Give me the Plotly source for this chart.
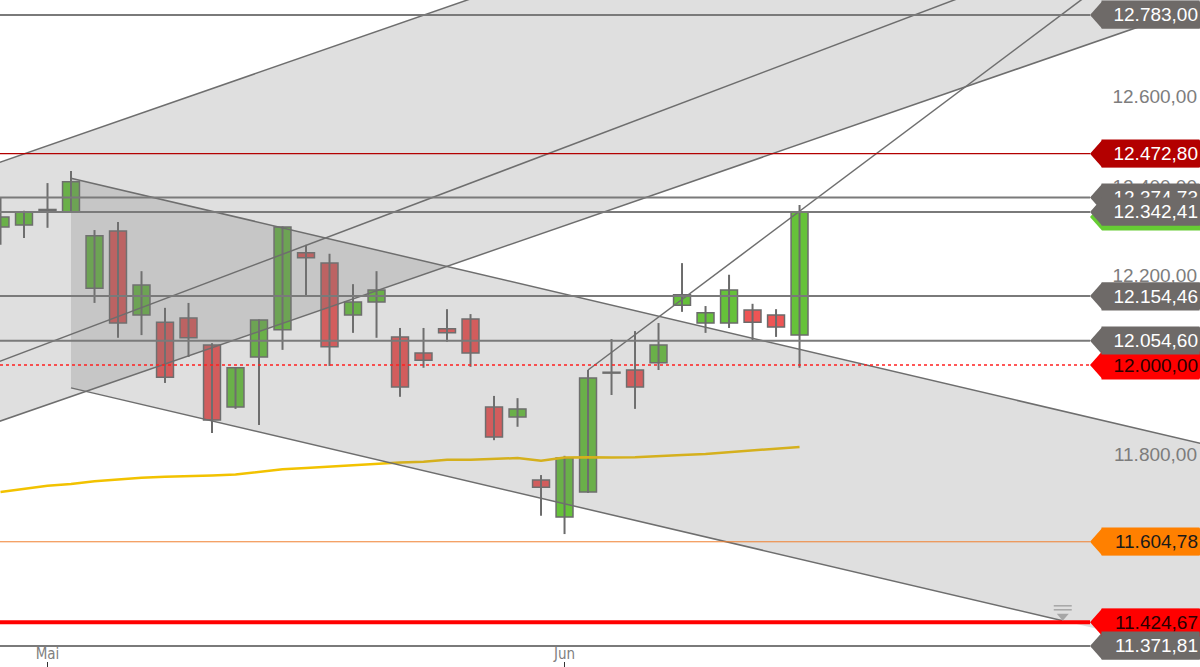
import plotly.graph_objects as go

# ---------------- data ----------------
# trading-day index of each candle (0 = first visible day)
day_idx = list(range(35))
opens  = [12309, 12313, 12346, 12342, 12172, 12300, 12112, 12096, 12105, 12045,
          11906, 12018, 12079, 12251, 12228, 12112, 12141, 12063, 12027, 12081,
          12103, 11906, 11884, 11743, 11660, 11716, 11982, 11989, 12005, 12134,
          12094, 12094, 12123, 12112, 12067]
highs  = [12376, 12345, 12407, 12434, 12302, 12320, 12210, 12128, 12139, 12049,
          11995, 12102, 12310, 12269, 12249, 12181, 12210, 12083, 12083, 12125,
          12114, 11931, 11926, 11754, 11797, 11989, 12058, 12076, 12094, 12228,
          12132, 12202, 12137, 12125, 12358]
lows   = [12269, 12284, 12307, 12341, 12139, 12061, 12067, 11960, 12018, 11848,
          11902, 11866, 12034, 12155, 11998, 12072, 12061, 11929, 11994, 12052,
          11996, 11832, 11862, 11663, 11622, 11714, 11933, 11902, 11989, 12119,
          12072, 12083, 12056, 12063, 11994]
closes = [12331, 12342, 12348, 12410, 12289, 12094, 12179, 11973, 12061, 11877,
          11994, 12101, 12309, 12240, 12041, 12141, 12168, 11951, 12011, 12072,
          12027, 11839, 11902, 11727, 11792, 11971, 11983, 11951, 12045, 12157,
          12117, 12168, 12096, 12085, 12342.41]
# moving average (yellow)
ma_vals = [11716, 11723, 11730, 11734, 11740, 11744, 11748, 11750, 11751, 11753,
           11755, 11761, 11767, 11770, 11773, 11777, 11780, 11782, 11784, 11788,
           11788, 11790, 11792, 11786, 11793, 11794, 11793, 11794, 11797, 11799,
           11801, 11805, 11808, 11812, 11817]

# x-axis month ticks
month_tick_idx = [2, 24]
month_tick_txt = ["Mai", "Jun"]

# y-axis ticks
y_ticks = [11400, 11600, 11800, 12000, 12200, 12400, 12600, 12800]

# trend lines: two anchor points (day index, price)
line_A = [(0, 12454), (40, 13184)]     # upper rising line
line_P = [(0, 12009), (40, 12805)]     # middle rising line
line_Q = [(0, 11875), (40, 12603)]     # lower rising line
line_E = [(25, 11989), (34, 12344)]    # steep rising line
desc_top = [(3, 12418), (45.2, 11897)] # falling channel top
desc_bot = [(3, 11949), (45.2, 11428)] # falling channel bottom

# horizontal levels with price tags (drawing order)
tag_levels = [12783.00, 12472.80, 12374.73, 12342.41, 12154.46,
              12000.00, 12054.60, 11604.78, 11424.67, 11371.81]
tag_fill = ["#6e6a68", "#b30000", "#6e6a68", "#6e6a68", "#6e6a68",
            "#ff0000", "#6e6a68", "#ff8000", "#ff0000", "#6e6a68"]
tag_font = ["white", "white", "white", "white", "white",
            "#2a0000", "white", "#1a1a1a", "#2a0000", "white"]
lvl_color = ["#7a7a7a", "#b30000", "#7a7a7a", "#7a7a7a", "#7a7a7a",
             "#ff2020", "#7a7a7a", "#f08030", "#ff0000", "#7a7a7a"]
lvl_width = [2, 1.2, 2, 2, 2, 1.6, 2, 1, 4, 2]
lvl_dash = ["solid", "solid", "solid", "solid", "solid",
            "dot", "solid", "solid", "solid", "solid"]

# ---------------- layout constants ----------------
W, H = 1200, 667
X_RANGE = [-0.0213, 51.04]
Y_RANGE = [11324.7, 12816.5]
PX_PRICE = (Y_RANGE[1] - Y_RANGE[0]) / H
TAG_X = 1090 / W
TAG_BOX_X = 1102 / W
TAG_HALF = 13.5 * PX_PRICE

GREEN = "#66c23a"
RED = "#ee5555"
OUTLINE = "#6b6b6b"
TREND = "#6e6e6e"
BAND_FILL = "rgba(120,120,120,0.24)"


def fmt_de(v):
    s = f"{v:,.2f}"
    return s.replace(",", "X").replace(".", ",").replace("X", ".")


def line_at(line, x):
    (x0, y0), (x1, y1) = line
    return y0 + (y1 - y0) * (x - x0) / (x1 - x0)


fig = go.Figure()

# wicks
wx, wy = [], []
for i, h, l in zip(day_idx, highs, lows):
    wx += [i, i, None]
    wy += [l, h, None]
fig.add_trace(go.Scatter(x=wx, y=wy, mode="lines",
                         line=dict(color=OUTLINE, width=2), hoverinfo="skip"))

# bodies
body_h = [max(abs(c - o), 2) for o, c in zip(opens, closes)]
body_b = [min(o, c) for o, c in zip(opens, closes)]
body_c = [GREEN if c >= o else RED for o, c in zip(opens, closes)]
fig.add_trace(go.Bar(x=day_idx, y=body_h, base=body_b, width=0.72,
                     marker=dict(color=body_c, line=dict(color=OUTLINE, width=1.5))))

# moving average
fig.add_trace(go.Scatter(x=day_idx, y=ma_vals, mode="lines",
                         line=dict(color="#f2c200", width=2.5), hoverinfo="skip"))

shapes = []
XL, XR = -2, 60
# upper rising band (between A and Q)
shapes.append(dict(type="path", xref="x", yref="y", layer="above",
                   path=f"M {XL},{line_at(line_A, XL)} L {XR},{line_at(line_A, XR)} "
                        f"L {XR},{line_at(line_Q, XR)} L {XL},{line_at(line_Q, XL)} Z",
                   fillcolor=BAND_FILL, line=dict(width=0)))
# falling channel
x0d = desc_top[0][0]
shapes.append(dict(type="path", xref="x", yref="y", layer="above",
                   path=f"M {x0d},{line_at(desc_top, x0d)} L {XR},{line_at(desc_top, XR)} "
                        f"L {XR},{line_at(desc_bot, XR)} L {x0d},{line_at(desc_bot, x0d)} Z",
                   fillcolor=BAND_FILL, line=dict(width=0)))

# trend lines
for ln, xa, xb in [(line_A, XL, XR), (line_P, XL, XR), (line_Q, XL, XR),
                   (line_E, line_E[0][0], XR), (desc_top, x0d, XR),
                   (desc_bot, x0d, desc_bot[1][0])]:
    shapes.append(dict(type="line", xref="x", yref="y", layer="above",
                       x0=xa, y0=line_at(ln, xa), x1=xb, y1=line_at(ln, xb),
                       line=dict(color=TREND, width=1.5)))

# horizontal levels
for lv, c, w, d in zip(tag_levels, lvl_color, lvl_width, lvl_dash):
    shapes.append(dict(type="line", xref="paper", yref="y", layer="above",
                       x0=0, x1=TAG_X, y0=lv, y1=lv,
                       line=dict(color=c, width=w, dash=d)))

# icon at the end of the falling channel bottom line
ex, ey = desc_bot[1]
shapes.append(dict(type="path", xref="x", yref="y", layer="above",
                   xsizemode="pixel", ysizemode="pixel", xanchor=ex, yanchor=ey,
                   path="M -6,7 L 6,7 L 0,0 Z", fillcolor="#a6a6a6",
                   line=dict(width=0)))
for dy in (11, 15):
    shapes.append(dict(type="path", xref="x", yref="y", layer="above",
                       xsizemode="pixel", ysizemode="pixel", xanchor=ex, yanchor=ey,
                       path=f"M -9,{dy} L 9,{dy}", line=dict(color="#a6a6a6", width=1.5)))


def tag_path(lv):
    return (f"M {TAG_X},{lv} L {TAG_BOX_X},{lv + TAG_HALF} L 1,{lv + TAG_HALF} "
            f"L 1,{lv - TAG_HALF} L {TAG_BOX_X},{lv - TAG_HALF} Z")


annotations = []
for lv, fc, tc in zip(tag_levels, tag_fill, tag_font):
    if lv == 12342.41:
        # green tag hidden behind, peeking out below
        g = lv - 5 * PX_PRICE
        shapes.append(dict(type="path", xref="paper", yref="y", layer="above",
                           path=tag_path(g), fillcolor="#66cc33", line=dict(width=0)))
    shapes.append(dict(type="path", xref="paper", yref="y", layer="above",
                       path=tag_path(lv), fillcolor=fc, line=dict(width=0)))
    annotations.append(dict(x=1, xref="paper", xanchor="right", y=lv, yref="y",
                            yanchor="middle", text=fmt_de(lv), showarrow=False,
                            bgcolor=fc, width=95, height=25, borderpad=1, align="right",
                            font=dict(family="Arial, Liberation Sans, sans-serif",
                                      size=19, color=tc)))

fig.update_layout(
    width=W, height=H, margin=dict(l=0, r=0, t=0, b=0),
    plot_bgcolor="white", paper_bgcolor="white", showlegend=False,
    separators=",.", shapes=shapes, annotations=annotations,
)
fig.update_xaxes(range=X_RANGE, tickvals=month_tick_idx, ticktext=month_tick_txt,
                 ticks="inside", ticklen=5, tickwidth=1, tickcolor="#333333",
                 ticklabelposition="inside", showgrid=False, zeroline=False,
                 showline=False,
                 tickfont=dict(family="Liberation Sans Narrow, Arial Narrow, DejaVu Sans Condensed, sans-serif",
                               size=15, color="#808080"))
fig.update_yaxes(range=Y_RANGE, side="right", ticklabelposition="inside",
                 tickvals=y_ticks, tickformat=",.2f", ticks="", showgrid=False,
                 zeroline=False, showline=False,
                 tickfont=dict(family="Arial, Liberation Sans, sans-serif",
                               size=19, color="#7d7d7d"))

fig.write_html("out.html", config={"displayModeBar": False},
               post_script="document.body.style.margin='0px';")
